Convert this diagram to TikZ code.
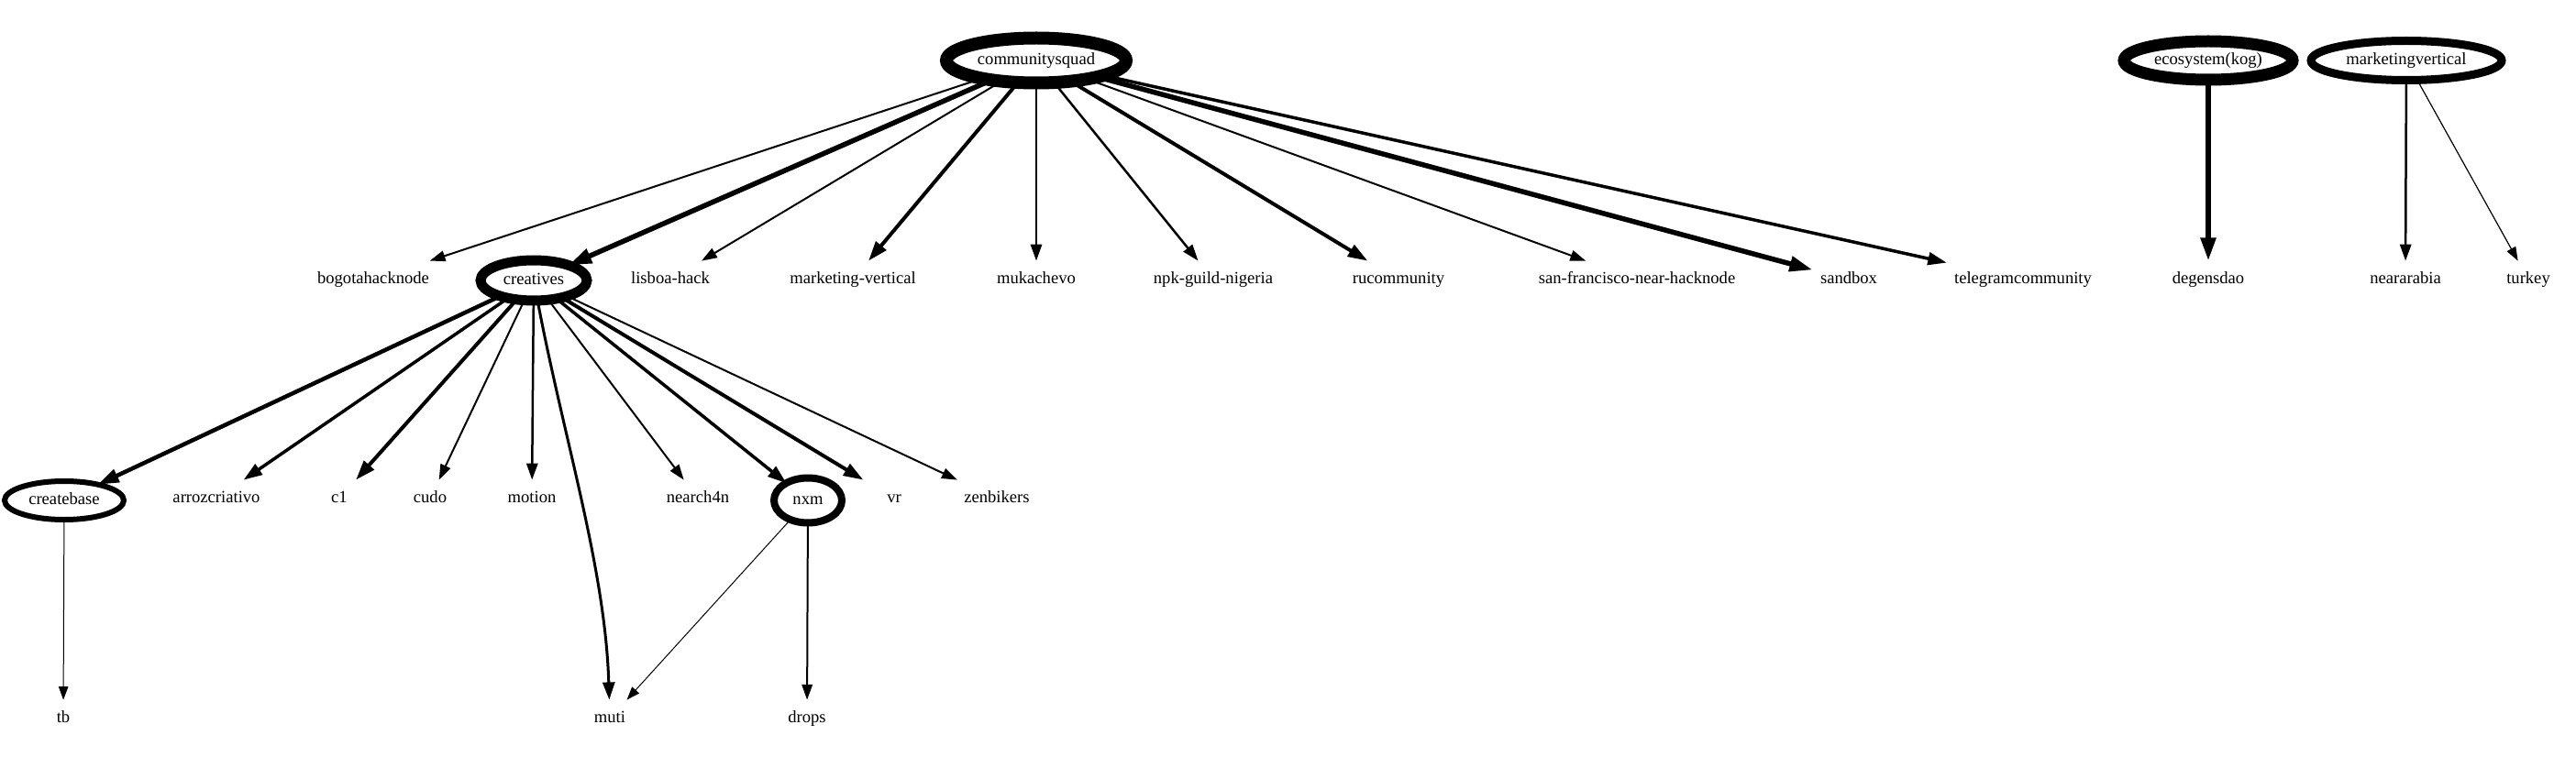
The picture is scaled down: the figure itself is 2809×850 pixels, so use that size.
\documentclass[tikz,border=0pt]{standalone}
\usepackage{fontspec}
\setmainfont{Liberation Serif}
\usetikzlibrary{arrows.meta,shapes.geometric}
\tikzset{
  lbl/.style={font=\fontsize{9.3}{11}\selectfont, text height=6.4pt, text depth=1.9pt},
  leaf/.style={lbl, rectangle, inner xsep=4pt, inner ysep=0pt, minimum height=20pt, minimum width=39pt},
  hub/.style={lbl, ellipse, draw, inner sep=0pt, outer sep=0pt, line width=#1},
  wA/.style={line width=0.5pt, -{Triangle[length=7.2pt,width=5.2pt]}},
  wB/.style={line width=0.6pt, -{Triangle[length=7.5pt,width=5.4pt]}},
  wC/.style={line width=1pt, -{Triangle[length=8.4pt,width=5.8pt]}},
  wD/.style={line width=1.25pt, -{Triangle[length=9pt,width=6.1pt]}},
  wE/.style={line width=1.5pt, -{Triangle[length=9.6pt,width=6.5pt]}},
  wF/.style={line width=1.75pt, -{Triangle[length=10.2pt,width=6.8pt]}},
  wG/.style={line width=2pt, -{Triangle[length=10.8pt,width=7.1pt]}},
  wH/.style={line width=2.25pt, -{Triangle[length=11.4pt,width=7.4pt]}},
  wI/.style={line width=2.75pt, -{Triangle[length=12.6pt,width=8pt]}},
}
\begin{document}
\begin{tikzpicture}[x=0.5pt,y=-0.5pt]
\useasboundingbox (0,0) rectangle (2809,850);
% row 1
\node[hub=7pt, minimum width=98pt, minimum height=24.5pt] (cs) at (1130,66) {communitysquad};
\node[hub=6.5pt, minimum width=92pt, minimum height=21pt] (eco) at (2408,66) {ecosystem(kog)};
\node[hub=4.5pt, minimum width=104pt, minimum height=21.5pt] (mv) at (2624,66) {marketingvertical};
% row 2
\node[leaf] (bogota) at (407,305) {bogotahacknode};
\node[hub=5.5pt, minimum width=58pt, minimum height=22pt] (cr) at (582,306) {creatives};
\node[leaf] (lisboa) at (731,305) {lisboa-hack};
\node[leaf] (mvert) at (930,305) {marketing-vertical};
\node[leaf] (muk) at (1130,305) {mukachevo};
\node[leaf] (npk) at (1323,305) {npk-guild-nigeria};
\node[leaf] (ru) at (1525,305) {rucommunity};
\node[leaf] (sf) at (1785,305) {san-francisco-near-hacknode};
\node[leaf] (sandbox) at (2016,305) {sandbox};
\node[leaf] (tg) at (2206,305) {telegramcommunity};
\node[leaf] (degens) at (2408,305) {degensdao};
\node[leaf] (nearab) at (2623,305) {neararabia};
\node[leaf] (turkey) at (2757,305) {turkey};
% row 3
\node[hub=3pt, minimum width=65pt, minimum height=21pt] (cb) at (70,546) {createbase};
\node[leaf] (arroz) at (236,544) {arrozcriativo};
\node[leaf] (cone) at (370,544) {c1};
\node[leaf] (cudo) at (469,544) {cudo};
\node[leaf] (motion) at (580,544) {motion};
\node[leaf] (nearch) at (761,544) {nearch4n};
\node[hub=4pt, minimum width=37pt, minimum height=24.5pt] (nxm) at (881,546) {nxm};
\node[leaf] (vr) at (975,544) {vr};
\node[leaf] (zen) at (1087,544) {zenbikers};
% row 4
\node[leaf] (tb) at (69,784) {tb};
\node[leaf] (muti) at (665,784) {muti};
\node[leaf] (drops) at (880,784) {drops};
% edges from communitysquad
\draw[wC] (cs) -- (bogota);
\draw[wI] (cs) -- (cr);
\draw[wC] (cs) -- (lisboa);
\draw[wG] (cs) -- (mvert);
\draw[wD] (cs) -- (muk);
\draw[wD] (cs) -- (npk);
\draw[wG] (cs) -- (ru);
\draw[wC] (cs) -- (sf);
\draw[wI] (cs) -- (sandbox);
\draw[wF] (cs) -- (tg);
% other hubs
\draw[wI] (eco) -- (degens);
\draw[wD] (mv) -- (nearab);
\draw[wB] (mv) -- (turkey);
% edges from creatives
\draw[wH] (cr) -- (cb);
\draw[wF] (cr) -- (arroz);
\draw[wG] (cr) -- (cone);
\draw[wC] (cr) -- (cudo);
\draw[wD] (cr) -- (motion);
\draw[wE] (cr) .. controls (615,480) and (660,620) .. (muti);
\draw[wC] (cr) -- (nearch);
\draw[wF] (cr) -- (nxm);
\draw[wG] (cr) -- (vr);
\draw[wC] (cr) -- (zen);
% lower edges
\draw[wA] (cb) -- (tb);
\draw[wA] (nxm) -- (muti);
\draw[wC] (nxm) -- (drops);
\end{tikzpicture}
\end{document}
